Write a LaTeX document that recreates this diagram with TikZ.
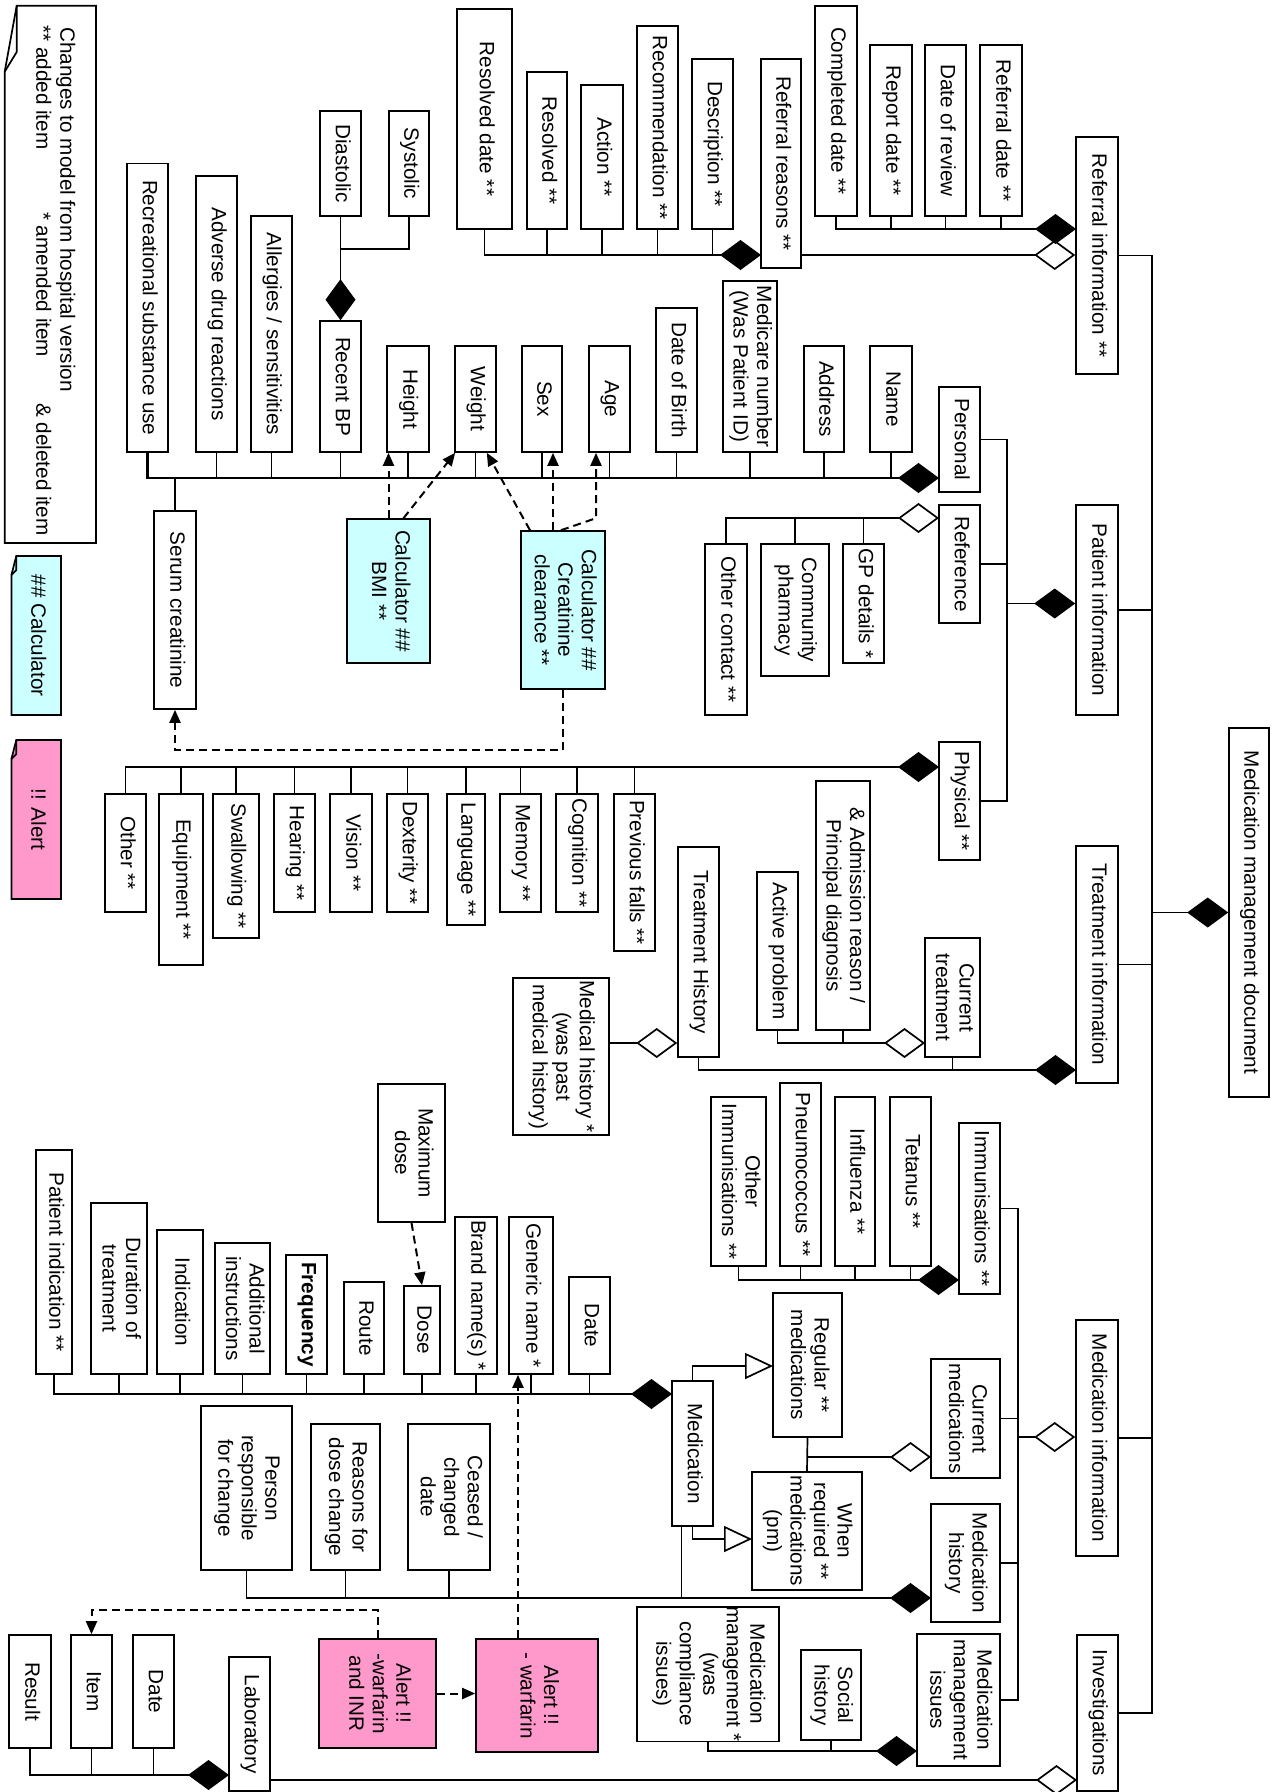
\documentclass[tikz,border=0pt]{standalone}
\usepackage{fontspec}
\setmainfont{Liberation Sans}
\usepackage{graphicx}
\usepackage{xcolor}
\usetikzlibrary{arrows.meta}
\definecolor{calccyan}{HTML}{CCFFFF}
\definecolor{alertpink}{HTML}{FF99CC}
\newcommand{\vtext}[1]{\rotatebox{-90}{\begin{tabular}{@{}c@{}}#1\end{tabular}}}

\begin{document}
\begin{tikzpicture}[x=1pt,y=-1pt,
  cls/.style={draw,line width=1.6pt,fill=white,inner sep=0pt,font={\fontsize{20.7}{23.5}\selectfont}},
  calcbox/.style={cls,fill=calccyan},
  alertbox/.style={cls,fill=alertpink},
  lgd/.style={inner sep=0pt,font={\fontsize{20.7}{23.5}\selectfont}},
  lk/.style={line width=1.7pt},
  bus/.style={line width=2.4pt},
  fdia/.style={lk,-{Diamond[length=41pt,width=30pt]}},
  odia/.style={lk,-{Diamond[open,length=41pt,width=30pt]}},
  gen/.style={lk,-{Triangle[open,length=28pt,width=26pt]}},
  dar/.style={line width=2pt,dash pattern=on 8pt off 5pt,-{Triangle[length=13pt,width=11pt]}}]
  \useasboundingbox (0,0) rectangle (1277,1792);

  % legend notes
  \draw[lk,fill=white] (4.7,71.7)--(16.7,5.7)--(96,5.7)--(96,543)--(4.7,543)--cycle;
  \draw[lk] (16.7,5.7)--(16.7,52)--(4.7,71.7);
  \node[lgd,anchor=north] (chg) at (65,27) {\vtext{Changes to model from hospital version}};
  \node[lgd,anchor=north] (added) at (41,25) {\vtext{** added item}};
  \node[lgd,anchor=north] (amended) at (41,212) {\vtext{* amended item}};
  \node[lgd,anchor=north] (deleted) at (41,403) {\vtext{\& deleted item}};
  \draw[lk,fill=calccyan] (11.4,575)--(16.3,556)--(61,556)--(61,715)--(11.4,715)--cycle;
  \draw[lk] (16.3,556)--(16.3,570)--(11.4,575);
  \node[lgd] (calcnote) at (36,635.5) {\vtext{\#\# Calculator}};
  \draw[lk,fill=alertpink] (11.4,759)--(16.3,740)--(61,740)--(61,899)--(11.4,899)--cycle;
  \draw[lk] (16.3,740)--(16.3,754)--(11.4,759);
  \node[lgd] (alertnote) at (36,819.5) {\vtext{!! Alert}};

  % referral information
  \node[cls,minimum width=55,minimum height=220] (resdate) at (484.5,119) {\vtext{Resolved date **}};
  \node[cls,minimum width=40,minimum height=157] (resolved) at (547,150.5) {\vtext{Resolved **}};
  \node[cls,minimum width=42,minimum height=144] (action) at (602,157) {\vtext{Action **}};
  \node[cls,minimum width=41,minimum height=203] (recomm) at (657.5,127.5) {\vtext{Recommendation **}};
  \node[cls,minimum width=41,minimum height=170] (descr) at (712.5,144) {\vtext{Description **}};
  \node[cls,minimum width=40,minimum height=209] (refreas) at (781,163.5) {\vtext{Referral reasons **}};
  \node[cls,minimum width=42,minimum height=210] (compdate) at (836,111) {\vtext{Completed date **}};
  \node[cls,minimum width=42,minimum height=171] (repdate) at (891,130.5) {\vtext{Report date **}};
  \node[cls,minimum width=41,minimum height=171] (daterev) at (945.5,130.5) {\vtext{Date of review}};
  \node[cls,minimum width=42,minimum height=171] (refdate) at (1001,130.5) {\vtext{Referral date **}};
  \node[cls,minimum width=42,minimum height=237] (refinfo) at (1097,255.5) {\vtext{Referral information **}};
  \node[cls,minimum width=40,minimum height=369] (mmd) at (1249,912.5) {\vtext{Medication management document}};

  % patient information
  \node[cls,minimum width=41,minimum height=288.5] (recsub) at (147.5,307.75) {\vtext{Recreational substance use}};
  \node[cls,minimum width=41,minimum height=276] (adverse) at (216.5,314) {\vtext{Adverse drug reactions}};
  \node[cls,minimum width=41,minimum height=236] (allerg) at (271.5,334) {\vtext{Allergies / sensitivities}};
  \node[cls,minimum width=41,minimum height=105] (diast) at (340.5,163.5) {\vtext{Diastolic}};
  \node[cls,minimum width=40,minimum height=105] (syst) at (409,163.5) {\vtext{Systolic}};
  \node[cls,minimum width=41,minimum height=131] (recbp) at (340.5,386.5) {\vtext{Recent BP}};
  \node[cls,minimum width=42,minimum height=106] (height) at (408,399) {\vtext{Height}};
  \node[cls,minimum width=41,minimum height=106] (weight) at (475.5,399) {\vtext{Weight}};
  \node[cls,minimum width=40,minimum height=106] (sex) at (542,399) {\vtext{Sex}};
  \node[cls,minimum width=41,minimum height=106] (age) at (609.5,399) {\vtext{Age}};
  \node[cls,minimum width=41,minimum height=144] (dob) at (676.5,380) {\vtext{Date of Birth}};
  \node[cls,minimum width=54,minimum height=171] (medicare) at (750,366.5) {\vtext{Medicare number\\(Was Patient ID)}};
  \node[cls,minimum width=40,minimum height=106] (address) at (824,399) {\vtext{Address}};
  \node[cls,minimum width=42,minimum height=106] (pname) at (891,399) {\vtext{Name}};
  \node[cls,minimum width=41,minimum height=105] (personal) at (959.5,439.5) {\vtext{Personal}};
  \node[cls,minimum width=42,minimum height=198] (serum) at (175,610) {\vtext{Serum creatinine}};
  \node[calcbox,minimum width=83,minimum height=144] (calcbmi) at (388.5,591) {\vtext{Calculator \#\#\\BMI **}};
  \node[calcbox,minimum width=84,minimum height=158] (calccr) at (563,610) {\vtext{Calculator \#\#\\Creatinine\\clearance **}};
  \node[cls,minimum width=41,minimum height=118] (reference) at (959.5,564) {\vtext{Reference}};
  \node[cls,minimum width=41,minimum height=119] (gpdet) at (863.5,603.5) {\vtext{GP details *}};
  \node[cls,minimum width=68,minimum height=132] (commph) at (795,610) {\vtext{Community\\pharmacy}};
  \node[cls,minimum width=42,minimum height=171] (othercon) at (726,629.5) {\vtext{Other contact **}};
  \node[cls,minimum width=41,minimum height=118] (physical) at (959.5,801) {\vtext{Physical **}};
  \node[cls,minimum width=41,minimum height=118] (other) at (125.5,853) {\vtext{Other **}};
  \node[cls,minimum width=44,minimum height=171] (equip) at (181,879.5) {\vtext{Equipment **}};
  \node[cls,minimum width=46,minimum height=144] (swallow) at (236,866) {\vtext{Swallowing **}};
  \node[cls,minimum width=41,minimum height=118] (hearing) at (294.5,853) {\vtext{Hearing **}};
  \node[cls,minimum width=42,minimum height=118] (vision) at (351,853) {\vtext{Vision **}};
  \node[cls,minimum width=41,minimum height=118] (dexter) at (407.5,853) {\vtext{Dexterity **}};
  \node[cls,minimum width=38,minimum height=131] (language) at (466,859.5) {\vtext{Language **}};
  \node[cls,minimum width=41,minimum height=118] (memory) at (520.5,853) {\vtext{Memory **}};
  \node[cls,minimum width=42,minimum height=118] (cognit) at (577,853) {\vtext{Cognition **}};
  \node[cls,minimum width=41,minimum height=157] (prevfall) at (634.5,872.5) {\vtext{Previous falls **}};
  \node[cls,minimum width=42,minimum height=210] (patinfo) at (1097,610) {\vtext{Patient information}};

  % treatment information
  \node[cls,minimum width=42,minimum height=237] (treatinfo) at (1097,964.5) {\vtext{Treatment information}};
  \node[cls,minimum width=55,minimum height=119] (curtreat) at (952.5,997.5) {\vtext{Current\\treatment}};
  \node[cls,minimum width=54,minimum height=249] (admiss) at (843,905.5) {\vtext{\& Admission reason /\\Principal diagnosis}};
  \node[cls,minimum width=41,minimum height=158] (activeprob) at (777.5,951) {\vtext{Active problem}};
  \node[cls,minimum width=41,minimum height=210] (trhist) at (698.5,952) {\vtext{Treatment History}};
  \node[cls,minimum width=96,minimum height=157] (medhist) at (561,1056.5) {\vtext{Medical history *\\(was past\\medical history)}};

  % immunisations
  \node[cls,minimum width=41,minimum height=171] (immun) at (979.5,1208.5) {\vtext{Immunisations **}};
  \node[cls,minimum width=41,minimum height=169] (tetanus) at (910.5,1181.5) {\vtext{Tetanus **}};
  \node[cls,minimum width=40,minimum height=169] (influenza) at (855,1181.5) {\vtext{Influenza **}};
  \node[cls,minimum width=41,minimum height=183] (pneumo) at (800.5,1174.5) {\vtext{Pneumococcus **}};
  \node[cls,minimum width=55,minimum height=169] (otherimm) at (738.5,1181.5) {\vtext{Other\\Immunisations **}};

  % medication information
  \node[cls,minimum width=42,minimum height=236] (medinfo) at (1097,1438) {\vtext{Medication information}};
  \node[cls,minimum width=69,minimum height=119] (curmeds) at (965.5,1418.5) {\vtext{Current\\medications}};
  \node[cls,minimum width=69,minimum height=144] (regmeds) at (807.5,1365) {\vtext{Regular **\\medications}};
  \node[cls,minimum width=110,minimum height=118] (whenreq) at (807,1531) {\vtext{When\\required **\\medications\\(pm)}};
  \node[cls,minimum width=41,minimum height=145] (medication) at (692.5,1453.5) {\vtext{Medication}};
  \node[cls,minimum width=36,minimum height=224] (patind) at (54,1262) {\vtext{Patient indication **}};
  \node[cls,minimum width=56,minimum height=171] (durat) at (119,1288.5) {\vtext{Duration of\\treatment}};
  \node[cls,minimum width=46,minimum height=144] (indic) at (180,1302) {\vtext{Indication}};
  \node[cls,minimum width=55,minimum height=131] (addinstr) at (242.5,1308.5) {\vtext{Additional\\instructions}};
  \node[cls,line width=2.6pt,minimum width=41,minimum height=119] (freq) at (306.5,1314.5) {\vtext{\bfseries Frequency}};
  \node[cls,minimum width=40,minimum height=92] (route) at (364,1328) {\vtext{Route}};
  \node[cls,minimum width=36,minimum height=88] (dose) at (422,1330) {\vtext{Dose}};
  \node[cls,minimum width=42,minimum height=157] (brand) at (476,1295.5) {\vtext{Brand name(s) *}};
  \node[cls,minimum width=44,minimum height=157] (generic) at (531,1295.5) {\vtext{Generic name *}};
  \node[cls,minimum width=41,minimum height=97] (datemed) at (589.5,1325.5) {\vtext{Date}};
  \node[cls,minimum width=67,minimum height=138] (maxdose) at (411.5,1153) {\vtext{Maximum\\dose}};
  \node[cls,minimum width=69,minimum height=118] (medhistory) at (965.5,1563) {\vtext{Medication\\history}};
  \node[cls,minimum width=91,minimum height=164] (person) at (246.5,1488) {\vtext{Person\\responsible\\for change}};
  \node[cls,minimum width=69,minimum height=146] (reasons) at (345.5,1497) {\vtext{Reasons for\\dose change}};
  \node[cls,minimum width=82,minimum height=146] (ceased) at (449,1497) {\vtext{Ceased /\\changed\\date}};
  \node[cls,minimum width=83,minimum height=132] (mmissues) at (958.5,1700) {\vtext{Medication\\management\\issues}};
  \node[cls,minimum width=60,minimum height=90] (social) at (831,1695) {\vtext{Social\\history}};
  \node[cls,minimum width=142,minimum height=132] (mmcomp) at (708,1674) {\vtext{Medication\\management *\\(was\\compliance\\issues)}};

  % investigations
  \node[cls,minimum width=41,minimum height=156] (investig) at (1097.5,1713) {\vtext{Investigations}};
  \node[cls,minimum width=41,minimum height=134] (laboratory) at (249.5,1724) {\vtext{Laboratory}};
  \node[cls,minimum width=41,minimum height=113] (datelab) at (153.5,1691.5) {\vtext{Date}};
  \node[cls,minimum width=41,minimum height=113] (item) at (91.5,1691.5) {\vtext{Item}};
  \node[cls,minimum width=42,minimum height=113] (result) at (30,1691.5) {\vtext{Result}};
  \node[alertbox,minimum width=117,minimum height=109] (alertinr) at (377.5,1693.5) {\vtext{Alert !!\\-warfarin\\and INR}};
  \node[alertbox,minimum width=122,minimum height=113] (alertw) at (537,1695.5) {\vtext{Alert !!\\- warfarin}};

  % bus points
  \coordinate (yRR) at (761,255);
  \coordinate (yCD) at (1076,229);
  \coordinate (yBP) at (340.5,249);
  \coordinate (yPers) at (939,478);
  \coordinate (yRef) at (939,518);
  \coordinate (yPhys) at (939,767);
  \coordinate (patBus) at (1007,603.5);
  \coordinate (mainBus) at (1152,1713);
  \coordinate (yCT) at (925,1043);
  \coordinate (yTr) at (1076,1070);
  \coordinate (yImm) at (959,1280);
  \coordinate (medBus) at (1018,1437);
  \coordinate (yCM) at (931,1457);
  \coordinate (yGen1) at (773,1366);
  \coordinate (yGen2) at (752,1539);
  \coordinate (yMed) at (672,1394);
  \coordinate (yMH) at (931,1598);
  \coordinate (yMM) at (917,1751);
  \coordinate (yLab) at (229,1775);
  \coordinate (yInv) at (1077,1780);

  % referral links
  \draw[fdia] (resdate.south) |- (yRR);
  \draw[lk] (resolved.south) -- (resolved.south |- yRR);
  \draw[lk] (action.south) -- (action.south |- yRR);
  \draw[lk] (recomm.south) -- (recomm.south |- yRR);
  \draw[lk] (descr.south) -- (descr.south |- yRR);
  \draw[odia] (refreas.east |- yRR) -- (refinfo.west |- yRR);
  \draw[fdia] (compdate.south) |- (yCD);
  \draw[lk] (repdate.south) -- (repdate.south |- yCD);
  \draw[lk] (daterev.south) -- (daterev.south |- yCD);
  \draw[lk] (refdate.south) -- (refdate.south |- yCD);

  % main bus
  \draw[lk] (refinfo.east) -| (mainBus) -- (investig.east |- mainBus);
  \draw[lk] (patinfo.east) -- (patinfo.east -| mainBus);
  \draw[lk] (treatinfo.east) -- (treatinfo.east -| mainBus);
  \draw[lk] (medinfo.east) -- (medinfo.east -| mainBus);
  \draw[fdia] (mmd.west -| mainBus) -- (mmd.west);

  % personal
  \draw[fdia,bus] (recsub.south) |- (yPers);
  \draw[lk] (adverse.south) -- (adverse.south |- yPers);
  \draw[lk] (allerg.south) -- (allerg.south |- yPers);
  \draw[lk] (recbp.south) -- (recbp.south |- yPers);
  \draw[lk] (height.south) -- (height.south |- yPers);
  \draw[lk] (weight.south) -- (weight.south |- yPers);
  \draw[lk] (sex.south) -- (sex.south |- yPers);
  \draw[lk] (age.south) -- (age.south |- yPers);
  \draw[lk] (dob.south) -- (dob.south |- yPers);
  \draw[lk] (medicare.south) -- (medicare.south |- yPers);
  \draw[lk] (address.south) -- (address.south |- yPers);
  \draw[lk] (pname.south) -- (pname.south |- yPers);
  \draw[lk] (serum.north) -- (serum.north |- yPers);
  \draw[lk] (syst.south) |- (yBP);
  \draw[lk] (diast.south) -- (yBP);
  \draw[fdia] (yBP) -- (recbp.north);

  % patient information
  \draw[lk] (personal.east) -| (physical.east -| patBus) -- (physical.east);
  \draw[lk] (reference.east) -- (reference.east -| patBus);
  \draw[fdia] (patBus) -- (patinfo.west |- patBus);
  \draw[odia] (othercon.north) |- (yRef);
  \draw[lk] (commph.north) -- (commph.north |- yRef);
  \draw[lk] (gpdet.north) -- (gpdet.north |- yRef);
  \draw[fdia] (other.north) |- (yPhys);
  \draw[lk] (equip.north) -- (equip.north |- yPhys);
  \draw[lk] (swallow.north) -- (swallow.north |- yPhys);
  \draw[lk] (hearing.north) -- (hearing.north |- yPhys);
  \draw[lk] (vision.north) -- (vision.north |- yPhys);
  \draw[lk] (dexter.north) -- (dexter.north |- yPhys);
  \draw[lk] (language.north) -- (language.north |- yPhys);
  \draw[lk] (memory.north) -- (memory.north |- yPhys);
  \draw[lk] (cognit.north) -- (cognit.north |- yPhys);
  \draw[lk] (prevfall.north) -- (prevfall.north |- yPhys);

  % calculators
  \coordinate (sexIn) at ([xshift=11pt]sex.south);
  \coordinate (ageIn) at ([xshift=-13.5pt]age.south);
  \draw[dar] (calcbmi.north) -- (calcbmi.north |- height.south);
  \draw[dar] ([xshift=15pt]calcbmi.north) -- ([xshift=1pt]weight.south west);
  \draw[dar] ([xshift=-33pt]calccr.north) -- ([xshift=-10pt]weight.south east);
  \draw[dar] (sexIn |- calccr.north) -- (sexIn);
  \draw[dar] ([xshift=-2pt]calccr.north) -- (ageIn |- calcbmi.north) -- (ageIn);
  \draw[dar] (calccr.south) -- ++(0,60) -| (serum.south);

  % treatment
  \draw[fdia] (trhist.south) |- (yTr);
  \draw[lk] (curtreat.south) -- (curtreat.south |- yTr);
  \draw[odia] (activeprob.south) |- (yCT);
  \draw[lk] (admiss.south) -- (admiss.south |- yCT);
  \draw[odia] (medhist.east |- yCT) -- (trhist.west |- yCT);

  % immunisations and medication
  \draw[fdia] (otherimm.south) |- (yImm);
  \draw[lk] (pneumo.south) -- (pneumo.south |- yImm);
  \draw[lk] (influenza.south) -- (influenza.south |- yImm);
  \draw[lk] (tetanus.south) -- (tetanus.south |- yImm);
  \draw[lk] (immun.east) -| (mmissues.east -| medBus) -- (mmissues.east);
  \draw[lk] (curmeds.east) -- (curmeds.east -| medBus);
  \draw[lk] (medhistory.east) -- (medhistory.east -| medBus);
  \draw[odia] (medBus) -- (medinfo.west |- medBus);
  \draw[lk] (regmeds.south) -- (whenreq.north);
  \draw[odia] (regmeds.south |- yCM) -- (yCM);
  \draw[gen] (medication.north) |- (yGen1);
  \draw[gen] (medication.south) |- (yGen2);
  \draw[fdia,bus] (patind.south) |- (yMed);
  \draw[lk] (durat.south) -- (durat.south |- yMed);
  \draw[lk] (indic.south) -- (indic.south |- yMed);
  \draw[lk] (addinstr.south) -- (addinstr.south |- yMed);
  \draw[lk] (freq.south) -- (freq.south |- yMed);
  \draw[lk] (route.south) -- (route.south |- yMed);
  \draw[lk] (dose.south) -- (dose.south |- yMed);
  \draw[lk] (brand.south) -- (brand.south |- yMed);
  \draw[lk] (generic.south) -- (generic.south |- yMed);
  \draw[lk] (datemed.south) -- (datemed.south |- yMed);
  \draw[dar] (maxdose.south) -- (dose.north);

  % medication history and issues
  \coordinate (medOut) at ([xshift=-11pt]medication.south);
  \draw[fdia] (person.south) |- (yMH);
  \draw[lk] (reasons.south) -- (reasons.south |- yMH);
  \draw[lk] (ceased.south) -- (ceased.south |- yMH);
  \draw[lk] (medOut) -- (medOut |- yMH);
  \draw[fdia] (mmcomp.south) |- (yMM);
  \draw[lk] (social.south) -- (social.south |- yMM);

  % investigations
  \draw[fdia] (result.south) |- (yLab);
  \draw[lk] (item.south) -- (item.south |- yLab);
  \draw[lk] (datelab.south) -- (datelab.south |- yLab);
  \draw[odia] (laboratory.east |- yInv) -- (yInv);

  % alerts
  \coordinate (genIn) at ([xshift=-19pt]alertw.north);
  \draw[dar] (alertinr.east) -- (alertw.west |- alertinr.east);
  \draw[dar] (genIn) -- (genIn |- generic.south);
  \draw[dar] (alertinr.north) -- ++(0,-28) -| (item.north);
\end{tikzpicture}
\end{document}
